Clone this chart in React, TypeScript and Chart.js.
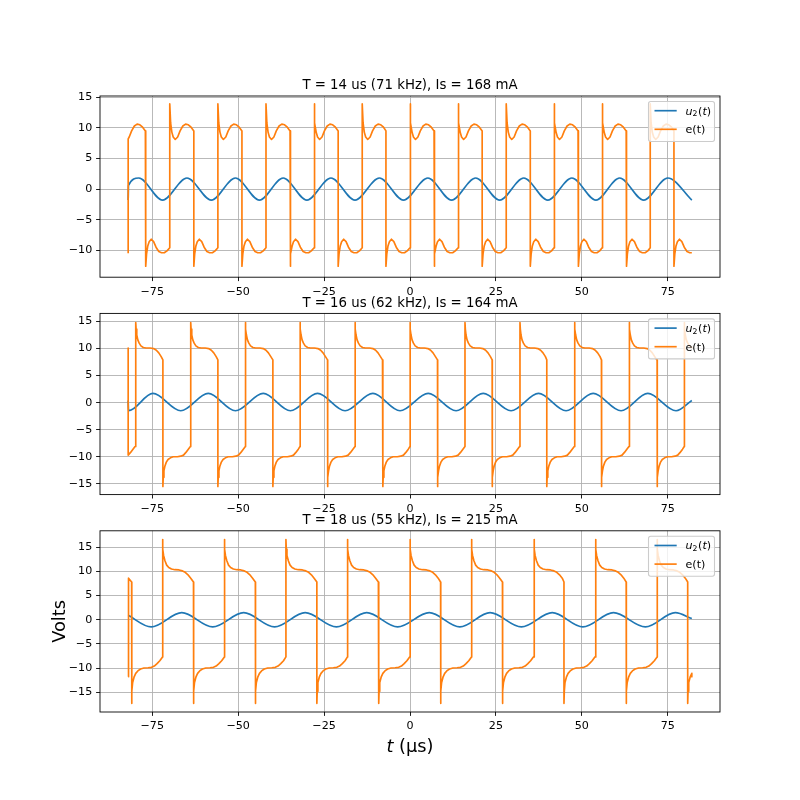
import React, { useEffect, useRef } from "react";
import { Chart, registerables } from "chart.js";

Chart.register(...registerables);

type P = [number, number];

const FONT = "'DejaVu Sans', 'Liberation Sans', sans-serif";
const BLUE = "#1f77b4";
const ORANGE = "#ff7f0e";

// ---------- text ----------
const titles = [
  "T = 14 us (71 kHz), Is = 168 mA",
  "T = 16 us (62 kHz), Is = 164 mA",
  "T = 18 us (55 kHz), Is = 215 mA",
];
const xLabelItalic = "t";
const xLabelRest = " (µs)";
const yLabel = "Volts";
const legendE = "e(t)";

// ---------- axes ----------
const xRange: P = [-90.2, 90.2];
const xTicks = [-75, -50, -25, 0, 25, 50, 75];
const yRanges: P[] = [
  [-14.4, 15.2],
  [-17.0, 16.5],
  [-19.1, 18.4],
];
const yTicks1 = [-10, -5, 0, 5, 10, 15];
const yTicks23 = [-15, -10, -5, 0, 5, 10, 15];

// ---------- u2(t): extrema ----------
const u14: P[] = [
  [-82, -1.8], [-81.9, 0.6], [-78.9, 1.8], [-72.0, -1.8], [-64.9, 1.8], [-57.8, -1.8],
  [-50.8, 1.8], [-43.8, -1.8], [-36.9, 1.8], [-30.0, -1.8], [-23.0, 1.8], [-16.0, -1.8],
  [-8.9, 1.8], [-1.9, -1.8], [5.2, 1.8], [12.1, -1.8], [19.1, 1.8], [26.1, -1.8],
  [33.1, 1.8], [40.1, -1.8], [47.1, 1.8], [54.1, -1.8], [61.0, 1.8], [68.0, -1.8],
  [75.0, 1.8], [82.0, -1.8],
];
const u16: P[] = [
  [-82, 0.4], [-81.9, -1.5], [-74.8, 1.7], [-66.7, -1.5], [-58.7, 1.7], [-50.8, -1.5],
  [-42.7, 1.7], [-34.8, -1.5], [-26.9, 1.7], [-18.9, -1.5], [-10.8, 1.7], [-2.9, -1.5],
  [5.3, 1.7], [13.4, -1.5], [21.3, 1.7], [29.4, -1.5], [37.4, 1.7], [45.4, -1.5],
  [53.3, 1.7], [61.4, -1.5], [69.2, 1.7], [77.4, -1.5], [82, 0.4],
];
const u18: P[] = [
  [-82, 0.9], [-75.3, -1.5], [-66.4, 1.45], [-57.4, -1.5], [-48.4, 1.45], [-39.4, -1.5],
  [-30.5, 1.45], [-21.4, -1.5], [-12.6, 1.45], [-3.6, -1.5], [5.6, 1.45], [14.5, -1.5],
  [23.3, 1.45], [32.4, -1.5], [41.4, 1.45], [50.3, -1.5], [59.2, 1.45], [68.5, -1.5],
  [77.2, 1.45], [82, 0.25],
];

// ---------- e(t): switching edges and plateau shapes ----------
// edge times (first one is the edge just before the trace starts)
const e14Edges = [
  -84, -76.9, -69.9, -62.9, -55.9, -48.9, -41.9, -34.9, -27.9, -20.9, -13.9, -7.0,
  0.0, 7.0, 14.0, 21.0, 28.0, 35.0, 41.9, 49.0, 55.9, 63.0, 69.9, 76.8,
];
const e16Edges = [
  -88, -79.8, -71.9, -63.8, -55.9, -47.9, -39.9, -32.0, -24.0, -16.0, -7.9,
  0.0, 8.0, 16.0, 23.9, 32.0, 39.8, 47.9, 55.7, 63.8, 71.9, 79.8,
];
const e18Edges = [
  -90, -81.0, -72.0, -63.0, -54.0, -45.0, -36.1, -27.1, -18.2, -9.1,
  0.0, 8.9, 17.9, 26.9, 36.1, 44.8, 54.0, 62.9, 71.9, 80.8,
];
// plateau shapes: [time after edge, volts]
const e14High: P[] = [
  [0, 13.9], [0.25, 10.8], [0.6, 9.3], [1.0, 8.5], [1.6, 8.1], [2.3, 8.5], [3.0, 9.5],
  [3.8, 10.3], [4.6, 10.6], [5.4, 10.5], [6.2, 10.1], [7, 9.5],
];
const e14Low: P[] = [
  [0, -12.6], [0.25, -10.6], [0.6, -9.3], [1.0, -8.6], [1.6, -8.2], [2.3, -8.6], [3.0, -9.5],
  [3.8, -10.2], [4.6, -10.4], [5.4, -10.4], [6.2, -10.1], [7, -9.6],
];
const e16High: P[] = [
  [0, 14.8], [0.1, 13.6], [0.3, 12.5], [0.6, 11.6], [1.0, 11.0], [1.5, 10.5], [2.2, 10.2],
  [3.0, 10.1], [4.2, 10.1], [5.2, 10.0], [6.0, 9.7], [6.7, 9.2], [7.4, 8.5], [8, 7.9],
];
const e16Low: P[] = [
  [0, -15.5], [0.1, -13.8], [0.3, -12.6], [0.6, -11.7], [1.0, -11.0], [1.5, -10.5], [2.2, -10.2],
  [3.0, -10.0], [4.2, -10.0], [5.2, -9.9], [6.0, -9.7], [6.7, -9.2], [7.4, -8.6], [8, -8.1],
];
const e18High: P[] = [
  [0, 16.6], [0.1, 14.6], [0.3, 13.3], [0.7, 12.2], [1.2, 11.3], [1.8, 10.8], [2.6, 10.5],
  [3.6, 10.35], [4.8, 10.3], [5.8, 10.1], [6.6, 9.8], [7.4, 9.3], [8.2, 8.6], [9, 7.8],
];
const e18Low: P[] = [
  [0, -17.3], [0.1, -14.8], [0.3, -13.0], [0.7, -11.9], [1.2, -11.1], [1.8, -10.6], [2.6, -10.2],
  [3.6, -10.0], [4.8, -9.95], [5.8, -9.85], [6.6, -9.6], [7.4, -9.1], [8.2, -8.5], [9, -7.7],
];
// start / end of each trace
const e14Head: P[] = [[-82, -10.5], [-82, 8.2]];
const e14Tail: P[] = [[82, -10.4]];
const e16Head: P[] = [[-82, 10.1]];
const e16Tail: P[] = [[82, 10.3]];
const e18Head: P[] = [[-82, -11.8], [-82, 8.6]];
const e18Tail: P[] = [[82, -11.8]];
const tStart = -82;
const tEnd = 82;

function buildE(head: P[], edges: number[], firstHigh: boolean, high: P[], low: P[], tail: P[]) {
  const pts: { x: number; y: number }[] = head.map(([x, y]) => ({ x, y }));
  edges.forEach((edge, i) => {
    const tpl = (i % 2 === 0) === firstHigh ? high : low;
    const next = i + 1 < edges.length ? edges[i + 1] : Infinity;
    for (const [dt, v] of tpl) {
      const t = edge + dt;
      if (t < tStart || t > tEnd || t >= next - 0.05) continue;
      if (t === tStart && pts.length && pts[pts.length - 1].x === t && pts[pts.length - 1].y === v) continue;
      pts.push({ x: t, y: v });
    }
    if (next !== Infinity && next >= tStart) pts.push({ x: next, y: tpl[tpl.length - 1][1] });
  });
  tail.forEach(([x, y]) => pts.push({ x, y }));
  return pts;
}
const toXY = (a: P[]) => a.map(([x, y]) => ({ x, y }));

const panels = [
  { title: titles[0], y: yRanges[0], yTicks: yTicks1, e: buildE(e14Head, e14Edges, true, e14High, e14Low, e14Tail), u: toXY(u14) },
  { title: titles[1], y: yRanges[1], yTicks: yTicks23, e: buildE(e16Head, e16Edges, false, e16High, e16Low, e16Tail), u: toXY(u16) },
  { title: titles[2], y: yRanges[2], yTicks: yTicks23, e: buildE(e18Head, e18Edges, true, e18High, e18Low, e18Tail), u: toXY(u18) },
];

// ---------- layout (matplotlib default subplot geometry, 800x800) ----------
const AX_TOP = [96, 313.4, 530.8];
const AX_H = 181.2;
const TICK_FONT = 11.1;
const LW = 1.67;

const fmt = (v: number | string) => {
  const n = Number(v);
  return n < 0 ? "\u2212" + Math.abs(n) : String(n);
};

function drawDecor(chart: any, i: number) {
  const ctx: CanvasRenderingContext2D = chart.ctx;
  const a = chart.chartArea;
  ctx.save();
  // spines
  ctx.strokeStyle = "#000";
  ctx.lineWidth = 0.89;
  ctx.strokeRect(a.left, a.top, a.right - a.left, a.bottom - a.top);
  // title
  ctx.fillStyle = "#000";
  ctx.font = `13.3px ${FONT}`;
  ctx.textAlign = "center";
  ctx.textBaseline = "alphabetic";
  ctx.fillText(panels[i].title, (a.left + a.right) / 2, a.top - 6.7);

  // legend
  const x0 = 648.5, x1 = 714.5, y0 = a.top + 5.5, y1 = a.top + 45.5, r = 2.2;
  ctx.beginPath();
  ctx.moveTo(x0 + r, y0);
  ctx.lineTo(x1 - r, y0);
  ctx.arcTo(x1, y0, x1, y0 + r, r);
  ctx.lineTo(x1, y1 - r);
  ctx.arcTo(x1, y1, x1 - r, y1, r);
  ctx.lineTo(x0 + r, y1);
  ctx.arcTo(x0, y1, x0, y1 - r, r);
  ctx.lineTo(x0, y0 + r);
  ctx.arcTo(x0, y0, x0 + r, y0, r);
  ctx.closePath();
  ctx.fillStyle = "rgba(255,255,255,0.8)";
  ctx.fill();
  ctx.strokeStyle = "#cccccc";
  ctx.lineWidth = 1.1;
  ctx.stroke();

  const rows = [a.top + 14.7, a.top + 33.3];
  const colors = [BLUE, ORANGE];
  rows.forEach((ry, k) => {
    ctx.beginPath();
    ctx.moveTo(654.5, ry);
    ctx.lineTo(676.7, ry);
    ctx.strokeStyle = colors[k];
    ctx.lineWidth = LW;
    ctx.stroke();
  });
  ctx.fillStyle = "#000";
  ctx.textAlign = "left";
  const tx = 685.5;
  // u_2(t)
  let cx = tx;
  const by = rows[0] + 3.8;
  ctx.font = `italic ${TICK_FONT}px ${FONT}`;
  ctx.fillText("u", cx, by);
  cx += ctx.measureText("u").width;
  ctx.font = `${TICK_FONT * 0.7}px ${FONT}`;
  ctx.fillText("2", cx, by + 1.8);
  cx += ctx.measureText("2").width + 0.6;
  ctx.font = `${TICK_FONT}px ${FONT}`;
  ctx.fillText("(", cx, by);
  cx += ctx.measureText("(").width;
  ctx.font = `italic ${TICK_FONT}px ${FONT}`;
  ctx.fillText("t", cx, by);
  cx += ctx.measureText("t").width;
  ctx.font = `${TICK_FONT}px ${FONT}`;
  ctx.fillText(")", cx, by);
  // e(t)
  ctx.fillText(legendE, tx, rows[1] + 3.8);

  if (i === 2) {
    const fs = 17.8;
    ctx.font = `italic ${fs}px ${FONT}`;
    const wt = ctx.measureText(xLabelItalic).width;
    ctx.font = `${fs}px ${FONT}`;
    const wr = ctx.measureText(xLabelRest).width;
    const lx = (a.left + a.right) / 2 - (wt + wr) / 2;
    ctx.textAlign = "left";
    ctx.font = `italic ${fs}px ${FONT}`;
    ctx.fillText(xLabelItalic, lx, 752);
    ctx.font = `${fs}px ${FONT}`;
    ctx.fillText(xLabelRest, lx + wt, 752);

    ctx.translate(64.5, (a.top + a.bottom) / 2);
    ctx.rotate(-Math.PI / 2);
    ctx.textAlign = "center";
    ctx.fillText(yLabel, 0, 0);
  }
  ctx.restore();
}

function makeConfig(i: number): any {
  const p = panels[i];
  const top = AX_TOP[i];
  const bottom = top + AX_H;
  const tickCommon = {
    autoSkip: false,
    maxRotation: 0,
    minRotation: 0,
    padding: 3.9,
    color: "#000",
    font: { family: FONT, size: TICK_FONT },
    callback: (v: any) => fmt(v),
  };
  const gridCommon = {
    color: "#b0b0b0",
    lineWidth: 0.89,
    drawTicks: true,
    tickLength: 3.9,
    tickColor: "#000",
    tickWidth: 0.89,
  };
  return {
    type: "line",
    data: {
      datasets: [
        {
          label: "e(t)",
          data: p.e,
          borderColor: ORANGE,
          borderWidth: LW,
          pointRadius: 0,
          tension: 0,
          fill: false,
          borderJoinStyle: "round",
        },
        {
          label: "u2(t)",
          data: p.u,
          borderColor: BLUE,
          borderWidth: LW,
          pointRadius: 0,
          cubicInterpolationMode: "monotone",
          fill: false,
          borderJoinStyle: "round",
        },
      ],
    },
    options: {
      responsive: false,
      maintainAspectRatio: false,
      animation: false,
      events: [],
      layout: { padding: { left: 0, right: 80, top, bottom: 800 - bottom - 30 } },
      plugins: {
        legend: { display: false },
        title: { display: false },
        tooltip: { enabled: false },
      },
      scales: {
        x: {
          type: "linear",
          min: xRange[0],
          max: xRange[1],
          afterFit: (s: any) => {
            s.height = 30;
          },
          afterBuildTicks: (s: any) => {
            s.ticks = xTicks.map((v) => ({ value: v }));
          },
          ticks: tickCommon,
          grid: gridCommon,
          border: { display: false },
        },
        y: {
          type: "linear",
          min: p.y[0],
          max: p.y[1],
          afterFit: (s: any) => {
            s.width = 100;
          },
          afterBuildTicks: (s: any) => {
            s.ticks = p.yTicks.map((v) => ({ value: v }));
          },
          ticks: tickCommon,
          grid: gridCommon,
          border: { display: false },
        },
      },
    },
    plugins: [
      {
        id: "decor" + i,
        afterDraw: (chart: any) => drawDecor(chart, i),
      },
    ],
  };
}

export default function App() {
  const r0 = useRef<HTMLCanvasElement>(null);
  const r1 = useRef<HTMLCanvasElement>(null);
  const r2 = useRef<HTMLCanvasElement>(null);
  const refs = [r0, r1, r2];

  useEffect(() => {
    const charts = refs.map((r, i) => new Chart(r.current as HTMLCanvasElement, makeConfig(i)));
    return () => charts.forEach((c) => c.destroy());
  }, []);

  return (
    <div
      style={{
        position: "fixed",
        left: 0,
        top: 0,
        width: 800,
        height: 800,
        background: "#ffffff",
        overflow: "hidden",
      }}
    >
      {refs.map((r, i) => (
        <canvas
          key={i}
          ref={r}
          width={800}
          height={800}
          style={{ position: "absolute", left: 0, top: 0, width: 800, height: 800 }}
        />
      ))}
    </div>
  );
}
